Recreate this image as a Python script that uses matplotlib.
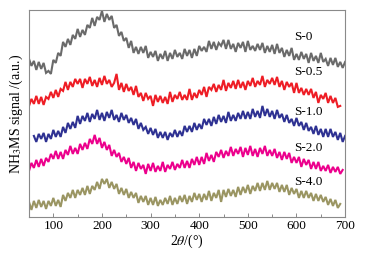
import numpy as np
import matplotlib
matplotlib.use("Agg")
from matplotlib import pyplot as plt
from matplotlib.ticker import MultipleLocator

plt.rcParams['font.family'] = ['Liberation Serif', 'DejaVu Serif']
plt.rcParams['mathtext.fontset'] = 'stix'

# temperature axis (2theta) for each trace, 5 degree step
x_s0 = np.arange(50, 701, 5)
x_s05 = np.arange(50, 691, 5)
x_s10 = np.arange(60, 701, 5)
x_s20 = np.arange(50, 696, 5)
x_s40 = np.arange(50, 691, 5)

# stacked NH3 MS signal (a.u., offset per sample)
s0 = [158, 151, 156, 147, 155, 148, 154, 144, 146, 143, 157, 154, 164, 161, 175, 170,
      178, 172, 182, 178, 188, 180, 187, 182, 192, 189, 199, 191, 200, 197, 206, 195,
      203, 197, 201, 189, 192, 181, 185, 176, 179, 169, 176, 164, 170, 163, 170, 164,
      171, 159, 165, 160, 166, 156, 163, 158, 166, 156, 164, 158, 167, 160, 164, 158,
      168, 161, 167, 159, 168, 161, 171, 166, 170, 165, 176, 168, 175, 167, 174, 171,
      177, 168, 177, 168, 173, 165, 174, 169, 175, 165, 176, 167, 171, 166, 173, 167,
      174, 164, 171, 165, 172, 163, 173, 164, 169, 160, 167, 161, 169, 157, 163, 157,
      165, 158, 163, 154, 164, 156, 161, 154, 164, 155, 158, 151, 159, 152, 159, 150,
      155, 149, 155]
s05 = [111, 118, 113, 121, 113, 120, 112, 120, 118, 125, 119, 127, 120, 128, 126, 135,
       127, 135, 130, 138, 133, 138, 129, 138, 133, 140, 131, 137, 130, 139, 132, 141,
       133, 137, 130, 134, 143, 127, 134, 125, 133, 126, 130, 122, 131, 120, 124, 116,
       124, 118, 121, 111, 122, 115, 121, 114, 120, 113, 125, 115, 122, 118, 125, 117,
       122, 117, 128, 117, 124, 119, 127, 122, 130, 120, 130, 127, 133, 125, 132, 127,
       137, 126, 134, 129, 136, 128, 137, 129, 135, 127, 136, 131, 139, 130, 136, 132,
       141, 130, 137, 133, 139, 132, 140, 130, 136, 127, 135, 130, 134, 124, 134, 124,
       129, 122, 128, 122, 128, 119, 125, 114, 122, 118, 124, 114, 121, 114, 119, 110,
       111]
s10 = [81, 75, 83, 78, 84, 75, 83, 78, 87, 80, 86, 80, 90, 84, 94, 88,
       95, 89, 101, 93, 101, 96, 104, 95, 103, 98, 107, 97, 104, 96, 105, 99,
       107, 97, 102, 95, 104, 97, 102, 94, 99, 92, 98, 88, 94, 87, 90, 83,
       89, 82, 88, 79, 85, 79, 85, 77, 84, 80, 87, 80, 86, 81, 91, 85,
       91, 85, 94, 87, 93, 88, 98, 92, 98, 91, 100, 93, 102, 95, 101, 94,
       105, 96, 102, 96, 104, 98, 106, 98, 105, 98, 108, 100, 106, 99, 111, 101,
       108, 100, 106, 98, 107, 99, 103, 95, 102, 94, 98, 91, 99, 91, 95, 87,
       94, 86, 90, 83, 91, 82, 88, 80, 88, 80, 88, 80, 85, 77, 84, 75,
       81]
s20 = [46, 54, 49, 57, 50, 58, 51, 59, 55, 63, 58, 66, 58, 65, 58, 67,
       62, 71, 63, 69, 63, 73, 67, 74, 68, 78, 73, 82, 73, 79, 69, 75,
       67, 72, 61, 67, 60, 64, 55, 60, 53, 59, 49, 55, 46, 54, 48, 52,
       43, 53, 46, 54, 45, 51, 46, 55, 45, 52, 48, 55, 47, 53, 49, 57,
       49, 56, 49, 58, 52, 60, 52, 60, 53, 64, 56, 62, 55, 65, 60, 67,
       59, 66, 61, 70, 61, 68, 63, 70, 60, 69, 62, 71, 61, 68, 60, 69,
       63, 71, 61, 67, 61, 68, 59, 65, 57, 65, 58, 64, 54, 60, 54, 60,
       50, 58, 52, 57, 48, 55, 48, 55, 46, 51, 46, 52, 44, 50, 45, 50,
       43, 47]
s40 = [15, 7, 16, 9, 17, 10, 16, 8, 16, 11, 19, 11, 17, 10, 22, 16,
       24, 19, 27, 19, 27, 22, 29, 22, 31, 23, 31, 27, 35, 28, 38, 33,
       38, 29, 35, 28, 33, 23, 29, 22, 28, 19, 25, 19, 24, 14, 21, 15,
       21, 12, 19, 12, 20, 11, 17, 12, 19, 13, 21, 12, 19, 13, 21, 15,
       22, 13, 21, 15, 24, 17, 23, 15, 23, 17, 26, 16, 24, 19, 27, 15,
       27, 20, 28, 21, 27, 20, 30, 22, 30, 24, 32, 23, 31, 26, 34, 26,
       34, 27, 36, 27, 34, 28, 34, 25, 32, 25, 32, 22, 29, 23, 28, 19,
       26, 19, 26, 19, 24, 16, 23, 16, 22, 15, 20, 12, 18, 11, 17, 9,
       13]

names = ['S-0', 'S-0.5', 'S-1.0', 'S-2.0', 'S-4.0']
colors = ['#6a6a6a', '#ee1d25', '#2e3192', '#ec008c', '#9a9562']
label_y = [180, 145, 105, 69, 35]

fig = plt.figure(figsize=(3.65, 2.54), dpi=100)
ax = fig.add_axes([0.0795, 0.146, 0.866, 0.815])

for xs, ys, c in zip([x_s0, x_s05, x_s10, x_s20, x_s40], [s0, s05, s10, s20, s40], colors):
    ax.plot(xs, ys, color=c, lw=1.5, solid_joinstyle='miter')

for name, ly in zip(names, label_y):
    ax.text(596, ly, name, fontsize=9.5, va='center', ha='left')

ax.set_xlim(50, 700)
ax.set_ylim(0, 207)
ax.xaxis.set_major_locator(MultipleLocator(100))
ax.xaxis.set_minor_locator(MultipleLocator(50))
ax.set_yticks([])
ax.tick_params(axis='x', which='major', direction='in', length=3, width=0.6,
               color='#777777', labelsize=9.5, pad=2)
ax.tick_params(axis='x', which='minor', direction='in', length=2, width=0.6, color='#777777')
for sp in ax.spines.values():
    sp.set_color('#8a8a8a')
    sp.set_linewidth(0.8)

ax.set_xlabel(r'2$\theta$/(°)', fontsize=10, labelpad=1)
ax.set_ylabel(r'NH$_3$MS signal /(a.u.)', fontsize=10, labelpad=3)

fig.savefig('out.png', dpi=100)
